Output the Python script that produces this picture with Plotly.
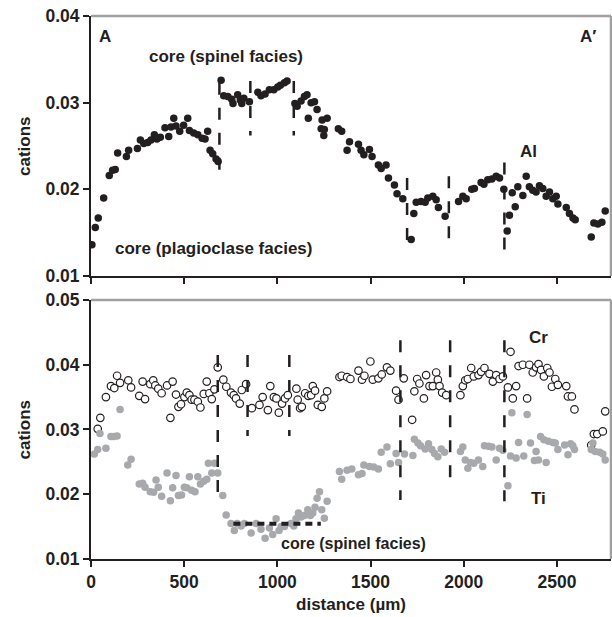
import plotly.graph_objects as go

# ---- Al profile (upper panel) ----
al_x = [5, 23, 39, 68, 98, 116, 130, 143, 190, 202, 249, 265, 283, 304, 322, 340, 354, 372,
        397, 417, 429, 444, 456, 476, 497, 519, 528, 551, 573, 596, 612, 626, 639, 653, 671,
        682, 698, 712, 734, 755, 762, 787, 801, 809, 820, 850, 895, 912, 934, 957, 981, 1002,
        1016, 1038, 1052, 1094, 1106, 1127, 1145, 1159, 1166, 1181, 1199, 1213, 1235, 1240,
        1249, 1252, 1267, 1327, 1345, 1374, 1387, 1435, 1449, 1464, 1494, 1508, 1542, 1557,
        1583, 1596, 1628, 1642, 1673, 1718, 1732, 1745, 1771, 1793, 1807, 1834, 1852, 1864,
        1900, 1972, 1995, 2013, 2043, 2057, 2093, 2108, 2129, 2151, 2174, 2192, 2215, 2233,
        2245, 2260, 2276, 2290, 2317, 2335, 2352, 2370, 2388, 2406, 2424, 2442, 2460, 2478,
        2496, 2505, 2550, 2567, 2586, 2598, 2684, 2698, 2720, 2741, 2759]
al_y = [0.0136, 0.0156, 0.0167, 0.0190, 0.0216, 0.0222, 0.0223, 0.0242, 0.0238, 0.0245,
        0.0247, 0.0257, 0.0253, 0.0254, 0.0257, 0.0263, 0.0258, 0.0260, 0.0271, 0.0261,
        0.0272, 0.0282, 0.0273, 0.0267, 0.0274, 0.0282, 0.0268, 0.0265, 0.0263, 0.0259,
        0.0258, 0.0267, 0.0245, 0.0241, 0.0235, 0.0232, 0.0326, 0.0308, 0.0307, 0.0304,
        0.0299, 0.0309, 0.0303, 0.0299, 0.0305, 0.0301, 0.0312, 0.0308, 0.0310, 0.0315,
        0.0315, 0.0318, 0.0320, 0.0323, 0.0325, 0.0299, 0.0296, 0.0302, 0.0307, 0.0309,
        0.0282, 0.0300, 0.0301, 0.0292, 0.0270, 0.0280, 0.0262, 0.0269, 0.0282, 0.0270,
        0.0267, 0.0245, 0.0255, 0.0252, 0.0245, 0.0240, 0.0246, 0.0238, 0.0228, 0.0224,
        0.0228, 0.0213, 0.0205, 0.0195, 0.0189, 0.0142, 0.0172, 0.0185, 0.0186, 0.0185,
        0.0190, 0.0192, 0.0188, 0.0179, 0.0169, 0.0186, 0.0192, 0.0189, 0.0200, 0.0201,
        0.0208, 0.0206, 0.0211, 0.0212, 0.0215, 0.0213, 0.0200, 0.0152, 0.0170, 0.0196,
        0.0180, 0.0203, 0.0193, 0.0215, 0.0203, 0.0199, 0.0197, 0.0204, 0.0201, 0.0192,
        0.0197, 0.0189, 0.0192, 0.0183, 0.0179, 0.0172, 0.0167, 0.0165, 0.0145, 0.0161,
        0.0160, 0.0162, 0.0175]

# ---- Cr profile (lower panel, open circles) ----
cr_x = [36, 50, 80, 107, 125, 140, 156, 200, 215, 259, 277, 290, 318, 334, 345, 361, 379,
        408, 426, 438, 456, 469, 483, 501, 514, 528, 540, 555, 573, 587, 605, 621, 635, 648,
        662, 680, 710, 726, 751, 766, 778, 798, 809, 832, 863, 904, 921, 949, 962, 981, 995,
        1008, 1025, 1041, 1056, 1102, 1109, 1122, 1131, 1149, 1166, 1181, 1190, 1202, 1217,
        1238, 1252, 1267, 1333, 1345, 1374, 1392, 1435, 1454, 1467, 1499, 1512, 1542, 1560,
        1588, 1606, 1637, 1650, 1678, 1723, 1735, 1750, 1762, 1786, 1798, 1816, 1834, 1852,
        1861, 1870, 1884, 1906, 1982, 1995, 2008, 2022, 2040, 2054, 2079, 2093, 2111, 2138,
        2156, 2174, 2192, 2210, 2237, 2251, 2263, 2281, 2294, 2317, 2340, 2352, 2370, 2388,
        2401, 2415, 2430, 2448, 2460, 2473, 2491, 2505, 2550, 2559, 2580, 2594, 2684, 2698,
        2716, 2746, 2759]
cr_y = [0.0301, 0.0318, 0.0350, 0.0367, 0.0364, 0.0383, 0.0372, 0.0376, 0.0365, 0.0352,
        0.0374, 0.0347, 0.0370, 0.0376, 0.0368, 0.0363, 0.0356, 0.0368, 0.0318, 0.0374,
        0.0354, 0.0335, 0.0339, 0.0350, 0.0357, 0.0353, 0.0346, 0.0346, 0.0343, 0.0334,
        0.0355, 0.0374, 0.0356, 0.0347, 0.0362, 0.0396, 0.0377, 0.0366, 0.0357, 0.0353,
        0.0348, 0.0340, 0.0361, 0.0370, 0.0333, 0.0338, 0.0350, 0.0330, 0.0367, 0.0350,
        0.0348, 0.0326, 0.0340, 0.0348, 0.0353, 0.0363, 0.0346, 0.0333, 0.0335, 0.0356,
        0.0352, 0.0353, 0.0367, 0.0360, 0.0338, 0.0335, 0.0348, 0.0359, 0.0381, 0.0383,
        0.0381, 0.0378, 0.0391, 0.0377, 0.0383, 0.0405, 0.0377, 0.0379, 0.0385, 0.0396,
        0.0391, 0.0360, 0.0346, 0.0379, 0.0315, 0.0359, 0.0378, 0.0371, 0.0348, 0.0384,
        0.0367, 0.0367, 0.0388, 0.0377, 0.0367, 0.0357, 0.0353, 0.0353, 0.0367, 0.0376,
        0.0378, 0.0395, 0.0382, 0.0384, 0.0389, 0.0395, 0.0386, 0.0374, 0.0384, 0.0378,
        0.0382, 0.0365, 0.0420, 0.0348, 0.0367, 0.0398, 0.0400, 0.0348, 0.0400, 0.0388,
        0.0396, 0.0401, 0.0392, 0.0382, 0.0395, 0.0388, 0.0366, 0.0378, 0.0369, 0.0367,
        0.0351, 0.0351, 0.0331, 0.0276, 0.0293, 0.0293, 0.0297, 0.0328]

# ---- Ti profile (lower panel, grey dots) ----
ti_x = [18, 36, 48, 80, 107, 122, 140, 156, 197, 215, 259, 277, 290, 318, 336, 349, 361,
        379, 408, 426, 438, 456, 469, 486, 501, 514, 528, 540, 558, 573, 587, 605, 621, 630,
        648, 662, 680, 707, 725, 751, 769, 784, 805, 823, 859, 886, 912, 934, 957, 975, 993,
        1009, 1020, 1038, 1073, 1088, 1100, 1113, 1127, 1145, 1163, 1177, 1190, 1202, 1213,
        1226, 1238, 1252, 1267, 1333, 1345, 1374, 1399, 1435, 1454, 1464, 1494, 1517, 1542,
        1557, 1588, 1606, 1637, 1650, 1682, 1727, 1735, 1754, 1768, 1793, 1811, 1829, 1843,
        1861, 1879, 1897, 1982, 1995, 2008, 2022, 2036, 2054, 2079, 2102, 2111, 2133, 2151,
        2174, 2192, 2210, 2237, 2251, 2258, 2281, 2294, 2322, 2340, 2358, 2379, 2388, 2401,
        2412, 2430, 2442, 2454, 2478, 2491, 2505, 2541, 2559, 2573, 2585, 2594, 2684, 2693,
        2705, 2729, 2746, 2759]
ti_y = [0.0262, 0.0269, 0.0294, 0.0271, 0.0289, 0.0289, 0.0290, 0.0331, 0.0245, 0.0254,
        0.0216, 0.0217, 0.0211, 0.0204, 0.0203, 0.0222, 0.0211, 0.0197, 0.0233, 0.0190,
        0.0210, 0.0229, 0.0198, 0.0199, 0.0211, 0.0210, 0.0227, 0.0206, 0.0204, 0.0227,
        0.0216, 0.0220, 0.0223, 0.0248, 0.0233, 0.0248, 0.0233, 0.0198, 0.0168, 0.0155,
        0.0144, 0.0155, 0.0151, 0.0155, 0.0140, 0.0155, 0.0146, 0.0132, 0.0148, 0.0138,
        0.0162, 0.0144, 0.0150, 0.0150, 0.0155, 0.0151, 0.0162, 0.0171, 0.0165, 0.0167,
        0.0176, 0.0167, 0.0171, 0.0180, 0.0194, 0.0204, 0.0176, 0.0163, 0.0189, 0.0235,
        0.0223, 0.0237, 0.0239, 0.0230, 0.0232, 0.0245, 0.0243, 0.0242, 0.0239, 0.0265,
        0.0273, 0.0247, 0.0263, 0.0249, 0.0262, 0.0260, 0.0285, 0.0279, 0.0275, 0.0270,
        0.0278, 0.0269, 0.0263, 0.0258, 0.0270, 0.0265, 0.0266, 0.0273, 0.0253, 0.0240,
        0.0249, 0.0248, 0.0253, 0.0243, 0.0275, 0.0274, 0.0273, 0.0253, 0.0271, 0.0268,
        0.0213, 0.0259, 0.0326, 0.0256, 0.0280, 0.0259, 0.0323, 0.0279, 0.0252, 0.0266,
        0.0253, 0.0289, 0.0284, 0.0249, 0.0282, 0.0280, 0.0279, 0.0269, 0.0276, 0.0261,
        0.0278, 0.0275, 0.0269, 0.0269, 0.0279, 0.0266, 0.0265, 0.0262, 0.0253]

# ---- zone boundaries (vertical dashed markers) ----
al_bound_x = [689, 855, 1088, 1696, 1920, 2218]
al_bound_lo = [0.0219, 0.0262, 0.0262, 0.0138, 0.0139, 0.0123]
al_bound_hi = [0.0323, 0.0325, 0.0325, 0.0213, 0.0215, 0.0231]

tc_bound_x = [680, 840, 1064, 1660, 1927, 2218]
tc_bound_lo = [0.0191, 0.0290, 0.0290, 0.0191, 0.0215, 0.0189]
tc_bound_hi = [0.0415, 0.0415, 0.0415, 0.0438, 0.0438, 0.0438]

# spinel-facies core level of Ti
core_ti_x = [764, 1233]
core_ti_level = 0.01545

x_ticks = [0, 500, 1000, 1500, 2000, 2500]
al_ticks = [0.01, 0.02, 0.03, 0.04]
tc_ticks = [0.01, 0.02, 0.03, 0.04, 0.05]

FONT = "Liberation Sans, Arial, sans-serif"
INK = "#231f20"


def segments(xs, lo, hi):
    px, py = [], []
    for x, a, b in zip(xs, lo, hi):
        px += [x, x, None]
        py += [b, a, None]
    return px, py


fig = go.Figure()

# upper panel
fig.add_trace(go.Scatter(x=al_x, y=al_y, mode="markers", xaxis="x", yaxis="y",
                         marker=dict(size=7.5, color=INK, line=dict(width=0))))
bx, by = segments(al_bound_x, al_bound_lo, al_bound_hi)
fig.add_trace(go.Scatter(x=bx, y=by, mode="lines", xaxis="x", yaxis="y",
                         line=dict(color=INK, width=2.5, dash="12px,13px")))

# lower panel
fig.add_trace(go.Scatter(x=cr_x, y=cr_y, mode="markers", xaxis="x2", yaxis="y2",
                         marker=dict(size=7.5, color="white", symbol="circle",
                                     line=dict(color=INK, width=1.2))))
fig.add_trace(go.Scatter(x=ti_x, y=ti_y, mode="markers", xaxis="x2", yaxis="y2",
                         marker=dict(size=7.5, color="#a7a9ac", line=dict(width=0))))
bx, by = segments(tc_bound_x, tc_bound_lo, tc_bound_hi)
fig.add_trace(go.Scatter(x=bx, y=by, mode="lines", xaxis="x2", yaxis="y2",
                         line=dict(color=INK, width=2.5, dash="12px,13px")))
fig.add_trace(go.Scatter(x=core_ti_x, y=[core_ti_level] * 2, mode="lines",
                         xaxis="x2", yaxis="y2",
                         line=dict(color=INK, width=4, dash="7px,5px")))

tick_font = dict(family=FONT, size=17.5, color=INK, weight="bold")
axis_common = dict(range=[0, 2790], tickvals=x_ticks, showgrid=False, zeroline=False,
                   showline=True, linecolor=INK, linewidth=2, ticks="outside",
                   ticklen=6, tickwidth=1.5, tickcolor=INK, tickfont=tick_font)
yaxis_common = dict(showgrid=False, zeroline=False, showline=True, linecolor=INK,
                    linewidth=2, ticks="outside", ticklen=6, tickwidth=1.5,
                    tickcolor=INK, tickfont=tick_font, tickformat=".2f")

fig.update_layout(
    width=612, height=617,
    margin=dict(l=91, r=1, t=16, b=58),
    paper_bgcolor="white", plot_bgcolor="white",
    showlegend=False,
    font=dict(family=FONT, color=INK),
    xaxis=dict(axis_common, anchor="y", showticklabels=False),
    yaxis=dict(yaxis_common, domain=[0.5212, 1.0], range=[0.01, 0.04], tickvals=al_ticks,
               anchor="x"),
    xaxis2=dict(axis_common, anchor="y2",
                title=dict(text="distance (µm)", standoff=7,
                           font=dict(family=FONT, size=17, color=INK, weight="bold"))),
    yaxis2=dict(yaxis_common, domain=[0.0, 0.4770], range=[0.01, 0.05], tickvals=tc_ticks,
                anchor="x2"),
)

# grey frame on the top and right edges of both panels
for xr, yr in (("x", "y"), ("x2", "y2")):
    fig.add_shape(type="line", xref=f"{xr} domain", yref=f"{yr} domain",
                  x0=0, x1=1, y0=1, y1=1, line=dict(color="#a0a0a0", width=2.5))
    fig.add_shape(type="line", xref=f"{xr} domain", yref=f"{yr} domain",
                  x0=1, x1=1, y0=0, y1=1, line=dict(color="#a0a0a0", width=2.5))

label_font = dict(family=FONT, size=17, color=INK, weight="bold")


def label(text, x, y, xr, yr, size=17, **kw):
    fig.add_annotation(text=text, x=x, y=y, xref=xr, yref=yr, showarrow=False,
                       font=dict(label_font, size=size), **kw)


label("A", 34, 0.0376, "x", "y", xanchor="left")
label("A′", 2668, 0.0376, "x", "y")
label("core (spinel facies)", 722, 0.0353, "x", "y")
label("core (plagioclase facies)", 657, 0.0132, "x", "y")
label("Al", 2348, 0.02435, "x", "y")
label("Cr", 2401, 0.04425, "x2", "y2")
label("Ti", 2401, 0.0194, "x2", "y2")
label("core (spinel facies)", 1411, 0.01232, "x2", "y2", size=16)

# y-axis titles
for yr in ("y domain", "y2 domain"):
    fig.add_annotation(text="cations", textangle=-90, x=-0.127, y=0.5,
                       xref="paper", yref=yr, xanchor="center", yanchor="middle",
                       showarrow=False, font=label_font)

fig.write_html("out.html")
